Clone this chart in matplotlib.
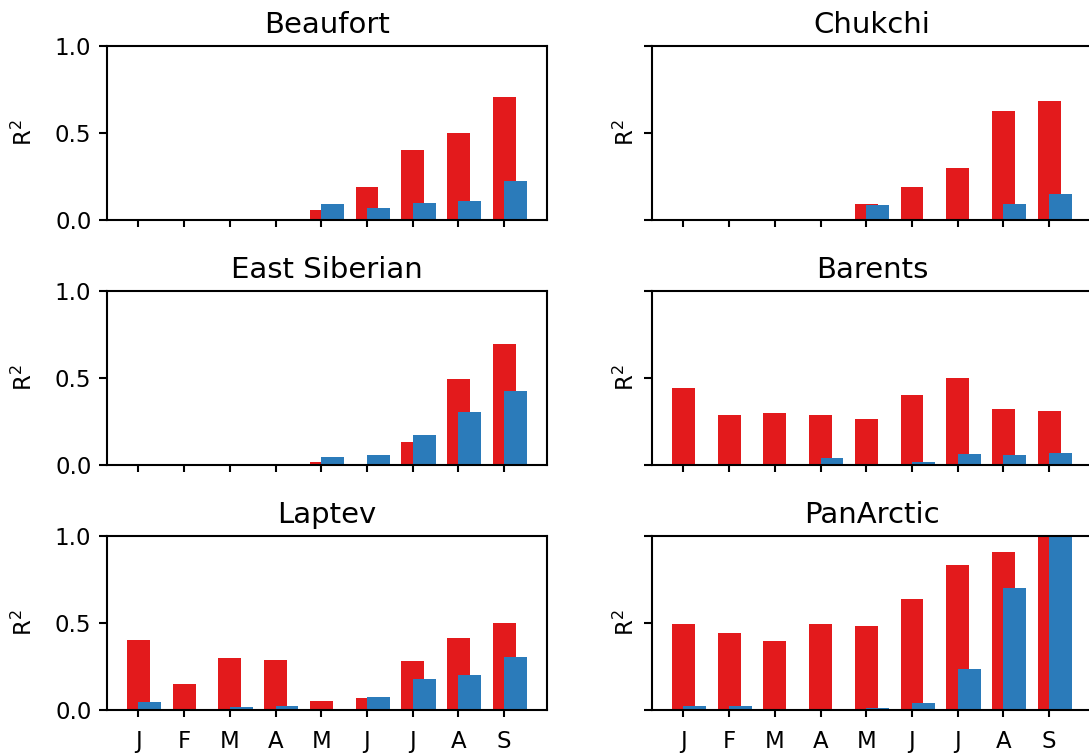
import numpy as np
import matplotlib.pyplot as plt

months = ['J', 'F', 'M', 'A', 'M', 'J', 'J', 'A', 'S']

beaufort_red = [0, 0, 0, 0, 0.058, 0.187, 0.404, 0.498, 0.704]
beaufort_blue = [0, 0, 0, 0, 0.09, 0.067, 0.10, 0.11, 0.225]

chukchi_red = [0, 0.005, 0.003, 0.003, 0.094, 0.192, 0.30, 0.627, 0.683]
chukchi_blue = [0, 0, 0.002, 0.002, 0.087, 0, 0, 0.094, 0.152]

esib_red = [0, 0.008, 0, 0.008, 0.017, 0, 0.132, 0.497, 0.696]
esib_blue = [0, 0, 0, 0, 0.044, 0.055, 0.174, 0.306, 0.424]

barents_red = [0.442, 0.287, 0.296, 0.287, 0.265, 0.402, 0.50, 0.319, 0.313]
barents_blue = [0, 0, 0.002, 0.042, 0.003, 0.017, 0.065, 0.056, 0.069]

laptev_red = [0.404, 0.152, 0.30, 0.29, 0.05, 0.069, 0.28, 0.415, 0.499]
laptev_blue = [0.046, 0, 0.017, 0.023, 0, 0.074, 0.177, 0.204, 0.305]

pan_red = [0.495, 0.444, 0.398, 0.495, 0.48, 0.638, 0.834, 0.91, 1.0]
pan_blue = [0.023, 0.023, 0, 0, 0.011, 0.04, 0.238, 0.70, 1.0]

regions = [
    ('Beaufort', beaufort_red, beaufort_blue),
    ('Chukchi', chukchi_red, chukchi_blue),
    ('East Siberian', esib_red, esib_blue),
    ('Barents', barents_red, barents_blue),
    ('Laptev', laptev_red, laptev_blue),
    ('PanArctic', pan_red, pan_blue),
]

red = '#e31a1c'
blue = '#2b7bba'
x = np.arange(len(months))
width = 0.5

plt.rcParams['axes.linewidth'] = 1.0
plt.rcParams['xtick.major.width'] = 1.0
plt.rcParams['ytick.major.width'] = 1.0
plt.rcParams['ytick.major.size'] = 4
plt.rcParams['xtick.major.pad'] = 6
plt.rcParams['font.size'] = 11

fig = plt.figure(figsize=(1089 / 150, 755 / 150), dpi=150)

lefts = [0.0983, 0.5987]
widths = [0.404, 0.404]
bottoms = [0.7086, 0.3841, 0.0596]
height = 0.2305
label_x = [-0.16, -0.03]

for i, (name, r, b) in enumerate(regions):
    row, col = i // 2, i % 2
    ax = fig.add_axes([lefts[col], bottoms[row], widths[col], height])
    ax.bar(x, r, width, color=red)
    ax.bar(x + width / 2, b, width, color=blue)
    ax.set_ylim(0, 1)
    ax.set_yticks([0, 0.5, 1.0])
    if col == 1:
        ax.set_yticklabels([])
    ax.set_xticks(x)
    if row == 2:
        ax.set_xticklabels(months)
    else:
        ax.set_xticklabels([])
    ax.set_title(name, fontsize=14)
    ax.set_ylabel('R$^2$')
    ax.yaxis.set_label_coords(label_x[col], 0.5)

fig.savefig('out.png', dpi=150)
